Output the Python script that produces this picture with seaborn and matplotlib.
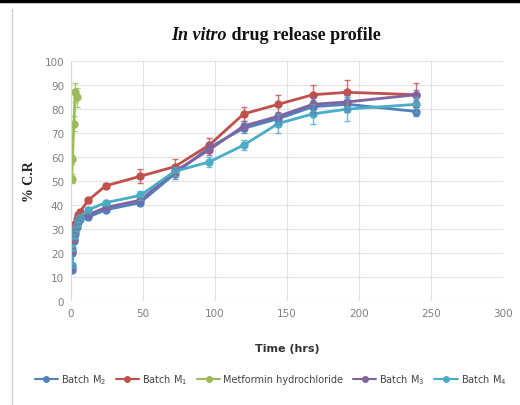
import numpy as np
import pandas as pd
import seaborn as sns
import matplotlib.pyplot as plt
from matplotlib.lines import Line2D

sns.set_theme(style="whitegrid")
plt.rcParams['font.family'] = ['DejaVu Sans']

# ---- data ----
time_batch = [0.5, 1, 2, 3, 4, 5, 6, 12, 24, 48, 72, 96, 120, 144, 168, 192, 240]
m2 = [13, 20, 25, 28, 31, 33, 34, 35, 38, 41, 53, 64, 72, 76, 81, 82, 79]
m1 = [21, 25, 29, 32, 34, 36, 37, 42, 48, 52, 56, 65, 78, 82, 86, 87, 86]
m3 = [14, 21, 26, 29, 32, 34, 35, 36, 39, 42, 54, 63, 73, 77, 82, 83, 86]
m4 = [15, 22, 27, 30, 32, 34, 35, 38, 41, 44, 54, 58, 65, 74, 78, 80, 82]
m2_err = [1, 1, 1, 1, 1, 1, 1, 1, 1, 1, 2, 2, 2, 2, 3, 3, 2]
m1_err = [1, 1, 1, 1, 1, 1, 1, 1, 1, 3, 3, 3, 3, 4, 4, 5, 5]
m3_err = [1, 1, 1, 1, 1, 1, 1, 1, 1, 1, 2, 2, 2, 2, 3, 3, 2]
m4_err = [1, 1, 1, 1, 1, 1, 1, 1, 1, 2, 2, 2, 2, 4, 4, 5, 3]
time_met = [0.5, 1, 2, 3, 4]
met = [51, 59, 74, 87, 85]
met_err = [2, 2, 3, 4, 4]

labels = ["Batch M$_2$", "Batch M$_1$", "Metformin hydrochloride", "Batch M$_3$", "Batch M$_4$"]
colors = ["#4F81BD", "#C0504D", "#9BBB59", "#8064A2", "#4BACC6"]

series = [(time_batch, m2, m2_err), (time_batch, m1, m1_err), (time_met, met, met_err),
          (time_batch, m3, m3_err), (time_batch, m4, m4_err)]

rows = []
for lab, (t, v, e) in zip(labels, series):
    for ti, vi in zip(t, v):
        rows.append({"Time": ti, "CR": vi, "Series": lab})
df = pd.DataFrame(rows)

fig = plt.figure(figsize=(5.2, 4.06), dpi=100)
ax = fig.add_axes([0.1365, 0.256, 0.8305, 0.591])

sns.lineplot(data=df, x="Time", y="CR", hue="Series", hue_order=labels,
             palette=colors, marker="o", markersize=6, linewidth=2,
             markeredgewidth=0, ax=ax, legend=False, sort=False)
for (t, v, e), c in zip(series, colors):
    ax.errorbar(t, v, yerr=e, fmt='none', ecolor=c, elinewidth=1, capsize=2, alpha=0.8)

ax.set_xlim(0, 300)
ax.set_ylim(0, 100)
ax.set_xticks(range(0, 301, 50))
ax.set_yticks(range(0, 101, 10))
ax.tick_params(axis='both', labelsize=7.5, colors='#7f7f7f', length=0, pad=5)
ax.grid(True, color='#e3e3e3', linewidth=0.8)
for s in ax.spines.values():
    s.set_visible(False)
ax.axvline(0, color='#d9d9d9', linewidth=0.8)
ax.axhline(0, color='#d9d9d9', linewidth=0.8)

ax.set_xlabel("Time (hrs)", fontsize=8, fontweight='bold', color='#333333', labelpad=18)
ax.set_ylabel("% C.R", fontsize=10, fontweight='bold', family='Liberation Serif', color='#222222', labelpad=6)

fig.text(0.435, 0.913, "In vitro", fontsize=13, fontweight='bold', style='italic',
         family='Liberation Serif', ha='right', va='center', color='#111111')
fig.text(0.437, 0.913, " drug release profile", fontsize=13, fontweight='bold',
         family='Liberation Serif', ha='left', va='center', color='#111111')

handles = [Line2D([0], [0], color=c, marker='o', markersize=4, linewidth=1.5) for c in colors]
leg = fig.legend(handles, labels, loc='center', bbox_to_anchor=(0.52, 0.064), ncol=5,
                 frameon=False, fontsize=7, handlelength=2.4, columnspacing=1.0,
                 handletextpad=0.3)
for t in leg.get_texts():
    t.set_color('#444444')

# frame of the original picture
fig.add_artist(Line2D([0, 1], [0.995, 0.995], color='black', linewidth=2.5, transform=fig.transFigure))
fig.add_artist(Line2D([0.023, 0.023], [0.0, 0.975], color='#cccccc', linewidth=1, transform=fig.transFigure))

fig.savefig("out.png", dpi=100)
